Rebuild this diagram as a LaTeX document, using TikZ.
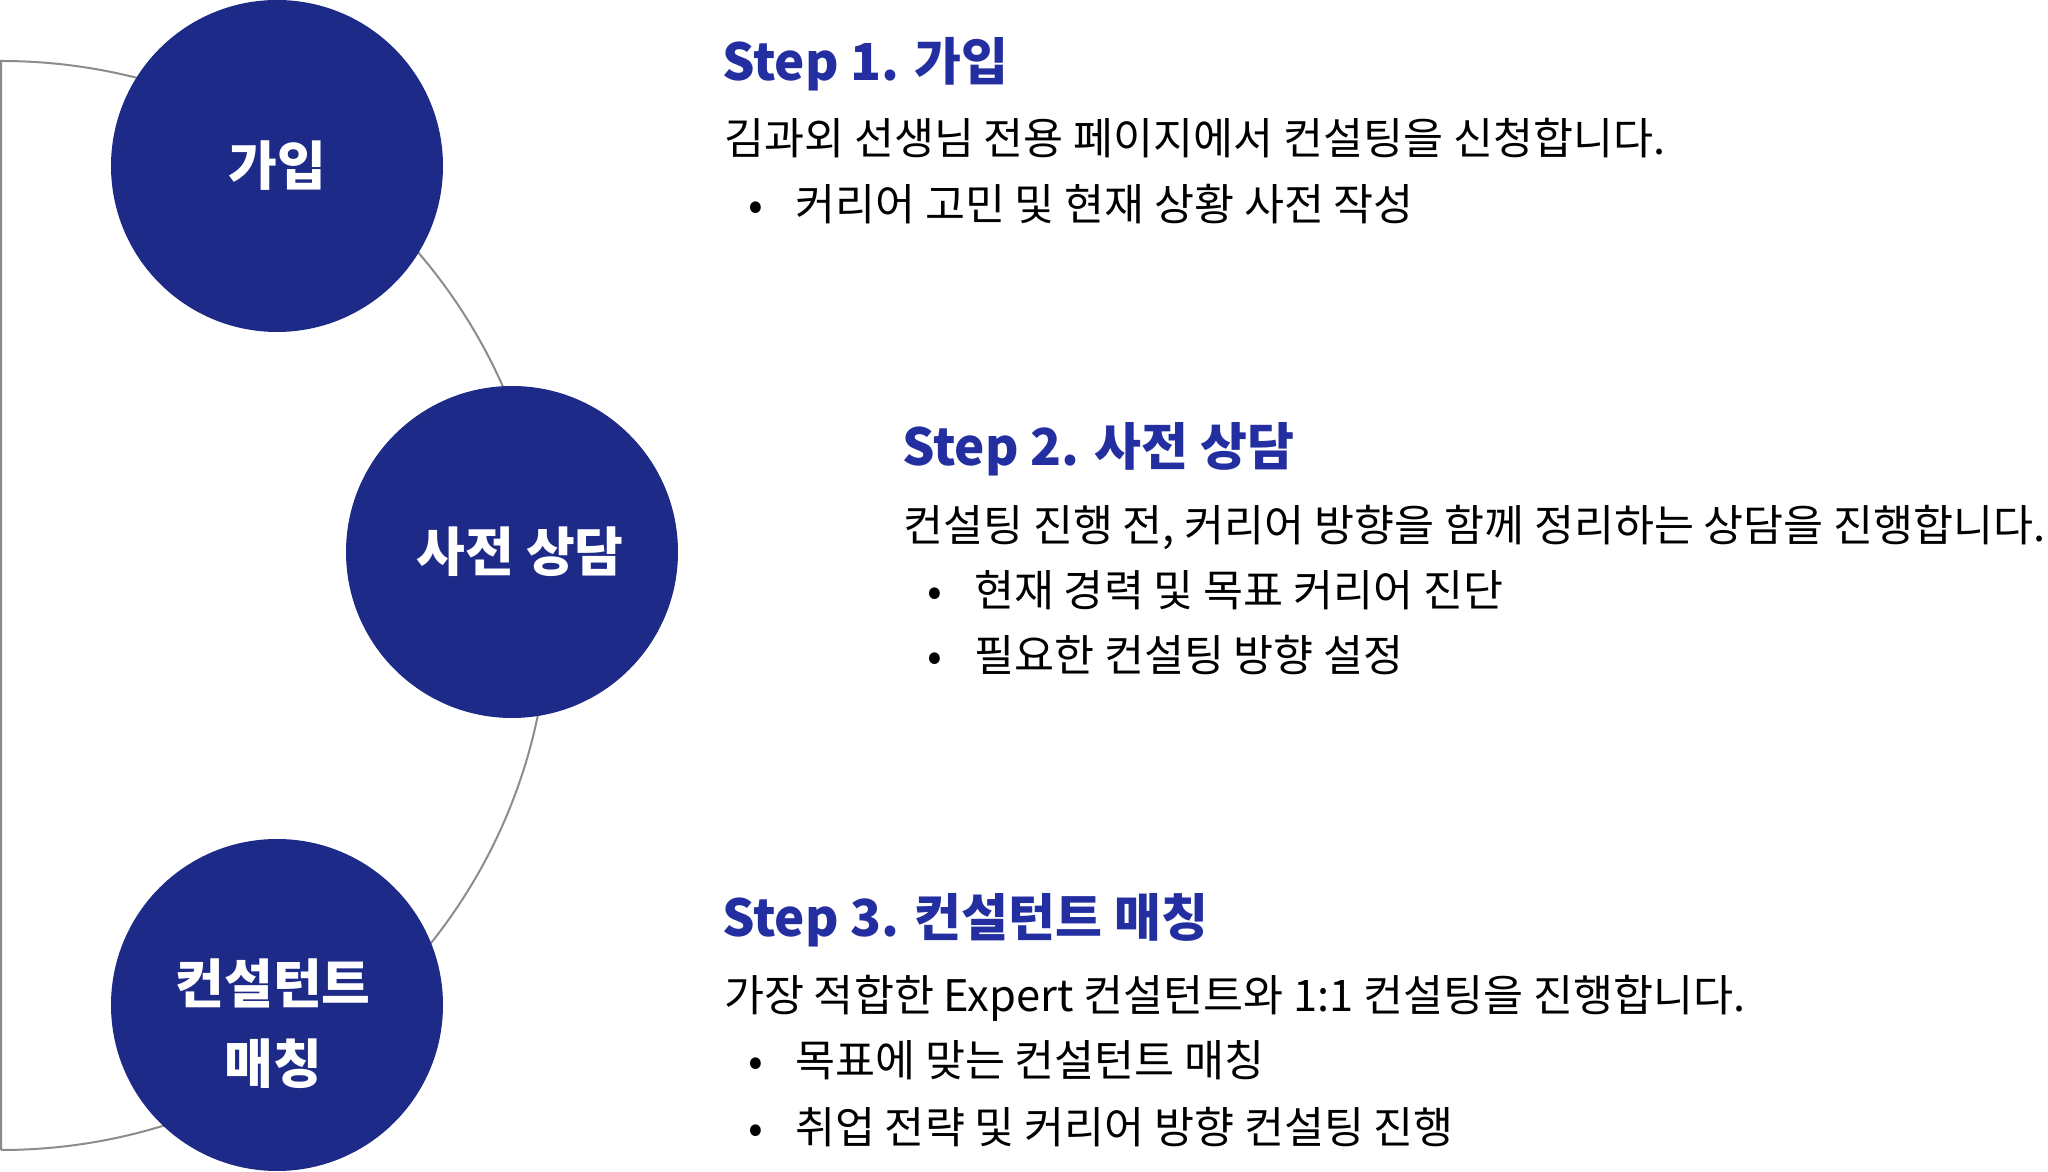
\documentclass[tikz,border=0pt]{standalone}
\usepackage{fontspec}
\setmainfont{Noto Sans CJK KR}
\definecolor{circblue}{RGB}{30,42,135}
\definecolor{titleblue}{RGB}{35,47,160}
\definecolor{arcgray}{RGB}{140,140,140}
\begin{document}
\begin{tikzpicture}[x=1pt, y=1pt,
    stepcircle/.style={circle, fill=circblue, minimum size=332pt, inner sep=0pt},
    circletext/.style={text=white, inner sep=0pt, align=center, font=\bfseries\fontsize{53}{80}\selectfont},
    steptitle/.style={anchor=base west, inner sep=0pt, text=titleblue, font=\bfseries\fontsize{51}{51}\selectfont},
    steptext/.style={anchor=base west, inner sep=0pt, font=\fontsize{43.5}{44}\selectfont},
    stepdot/.style={anchor=base, inner sep=0pt, font=\fontsize{43.5}{44}\selectfont}]
    \useasboundingbox (0,0) rectangle (2048,1172);
    % Half ring behind the circles
    \draw[arcgray, line width=2pt] (1,22) -- (1,1111) arc[start angle=90, end angle=-90, x radius=548, y radius=544.5];
    % Circles
    \node[stepcircle] (join) at (277,1006) {};
    \node[circletext] (joinlabel) at (join.center) {가입};
    \node[stepcircle] (precon) at (512,620) {};
    \node[circletext] (preconlabel) at ([xshift=8pt]precon.center) {사전 상담};
    \node[stepcircle] (match) at (277,167) {};
    \node[circletext] (matchlabel) at ([xshift=-4pt, yshift=-19pt]match.center) {컨설턴트\\매칭};
    % Step 1
    \node[steptitle] (title1) at (722,1091) {Step 1. 가입};
    \node[steptext] (body1) at (724,1017) {김과외 선생님 전용 페이지에서 컨설팅을 신청합니다.};
    \node[steptext] (item1a) at (795,951) {커리어 고민 및 현재 상황 사전 작성};
    \node[stepdot] (dot1a) at ([xshift=-39pt]item1a.base west) {•};
    % Step 2
    \node[steptitle] (title2) at (902,706) {Step 2. 사전 상담};
    \node[steptext] (body2) at (903,630) {컨설팅 진행 전, 커리어 방향을 함께 정리하는 상담을 진행합니다.};
    \node[steptext] (item2a) at (974,565) {현재 경력 및 목표 커리어 진단};
    \node[stepdot] (dot2a) at ([xshift=-39pt]item2a.base west) {•};
    \node[steptext] (item2b) at (974,500) {필요한 컨설팅 방향 설정};
    \node[stepdot] (dot2b) at ([xshift=-39pt]item2b.base west) {•};
    % Step 3
    \node[steptitle] (title3) at (722,235) {Step 3. 컨설턴트 매칭};
    \node[steptext] (body3) at (724,160) {가장 적합한 Expert 컨설턴트와 1:1 컨설팅을 진행합니다.};
    \node[steptext] (item3a) at (795,95) {목표에 맞는 컨설턴트 매칭};
    \node[stepdot] (dot3a) at ([xshift=-39pt]item3a.base west) {•};
    \node[steptext] (item3b) at (795,28) {취업 전략 및 커리어 방향 컨설팅 진행};
    \node[stepdot] (dot3b) at ([xshift=-39pt]item3b.base west) {•};
\end{tikzpicture}
\end{document}
